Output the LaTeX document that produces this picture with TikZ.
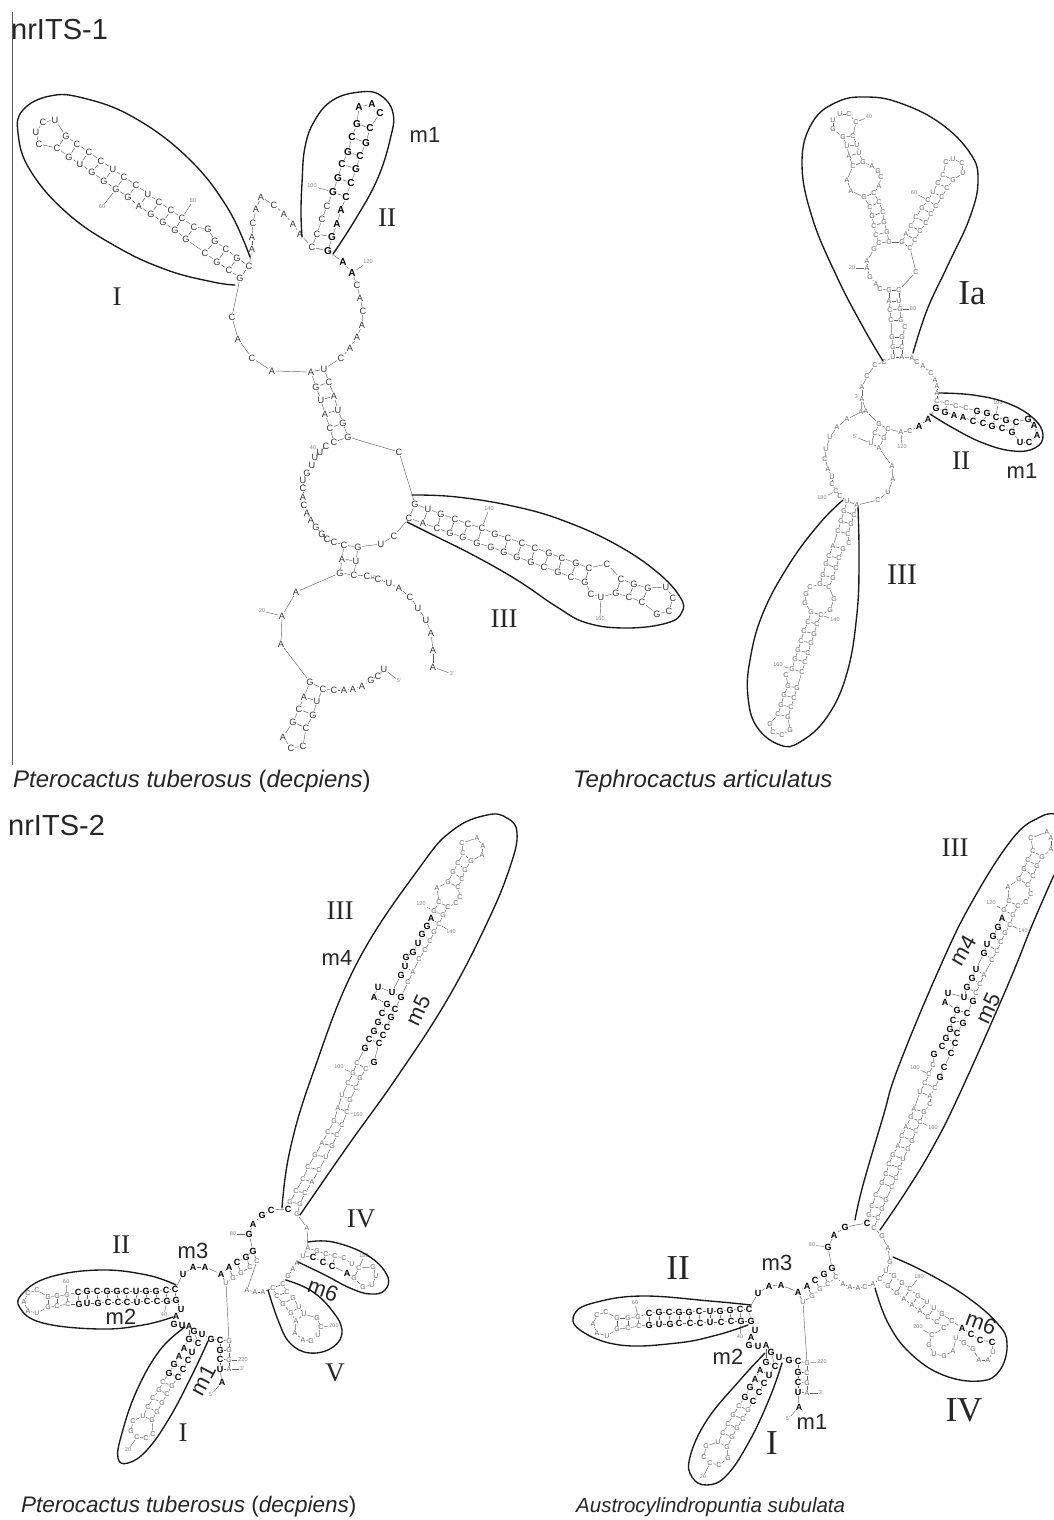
\documentclass[tikz,border=0pt]{standalone}
\usepackage{fontspec}
\setmainfont{Liberation Serif}
\setsansfont{Liberation Sans}
\usetikzlibrary{calc}
\definecolor{ga}{gray}{0.2}
\definecolor{gb}{gray}{0.38}
\definecolor{gt}{gray}{0.5}
\newcommand\strand[3]{%
 \foreach \px/\py/\lett [count=\ci] in {#3}{%
   \node[#2] (#1\ci) at (\px,\py) {\lett};
   \ifnum\ci>1 \pgfmathtruncatemacro\cp{\ci-1}\draw[bond] (#1\cp) -- (#1\ci);\fi
 }}
\newcommand\nest[4]{%
 \foreach \kk in {1,...,#4}{%
   \pgfmathtruncatemacro\ua{#2+\kk-1}\pgfmathtruncatemacro\ub{#3-\kk+1}%
   \draw[pairb] (#1\ua) -- (#1\ub);}}
\newcommand\pairs[3]{\foreach \ua/\ub in {#3}{\draw[pairb] (#1\ua) -- (#2\ub);}}
\newcommand\bond[2]{\draw[bond] (#1) -- (#2);}
\newcommand\tickn[5]{\node[tick] (#1) at (#2,#3) {#4}; \draw[bond] (#1) -- (#5);}
\tikzset{
 base/.style={font=\sffamily\fontsize{9.2}{9.2}\selectfont,text=ga,inner sep=.6pt},
 bold/.style={font=\sffamily\bfseries\fontsize{10}{10}\selectfont,text=black,inner sep=.6pt},
 thin/.style={font=\sffamily\fontsize{7}{7}\selectfont,text=gb,inner sep=.5pt},
 heavy/.style={font=\sffamily\bfseries\fontsize{9}{9}\selectfont,text=black,inner sep=.4pt},
 bond/.style={draw=gb,line width=.45pt},
 pairb/.style={draw=gb,line width=.55pt},
 tick/.style={font=\sffamily\fontsize{5.5}{5.5}\selectfont,text=gt,inner sep=1pt},
 outl/.style={draw=black!90,line width=1.35pt,line cap=round},
 roman/.style={font=\rmfamily\fontsize{#1}{#1}\selectfont,text=black!85,inner sep=0pt},
 roman/.default=27,
 mlab/.style={font=\sffamily\fontsize{22}{22}\selectfont,text=black!85,inner sep=0pt},
 head/.style={font=\sffamily\fontsize{29}{29}\selectfont,text=black!85,inner sep=0pt,anchor=base west},
 capt/.style={font=\sffamily\fontsize{#1}{#1}\selectfont,text=black!85,inner sep=0pt,anchor=base west},
}
\begin{document}
\begin{tikzpicture}[x=1pt,y=-1pt]
\useasboundingbox (0,0) rectangle (1054,1520);
% ---------- headings
\coordinate (vt) at (12.5,12); \coordinate (vb) at (12.5,765);
\draw[draw=black!65,line width=.9pt] (vt) -- (vb);
\node[head] (h1) at (11,40) {nrITS-1};
\node[head] (h2) at (8,835) {nrITS-2};
\node[capt=24] (c1) at (13,787) {\itshape Pterocactus tuberosus \upshape(\itshape decpiens\upshape)};
\node[capt=24] (c2) at (573,787) {\itshape Tephrocactus articulatus};
\node[capt=22.5] (c3) at (21,1512) {\itshape Pterocactus tuberosus \upshape(\itshape decpiens\upshape)};
\node[capt=20.5] (c4) at (576,1512) {\itshape Austrocylindropuntia subulata};
% ---------- A
\strand{aI}{base}{249/266/C,237/258/G,226/249/C,215/241/G,208/229/G,194/227/C,182/218/C,171/210/C,159/202/C,148/194/U,136/185/C,124/177/C,113/169/U,101/161/C,89/152/C,77/144/C,66/136/G,55/120/U,43/122/C,36/132/U,39/144/C,57/148/C,69/157/G,80/164/U,92/172/G,104/181/G,116/189/G,128/197/G,139/206/A,151/214/G,163/222/G,175/230/G,186/239/G,205/253/C,217/262/G,229/270/C,240/278/G}
\nest{aI}{1}{37}{4}\nest{aI}{6}{33}{12}
\strand{aL}{base}{232/317/C,238/339/A,252/358/C,272/371/A,311/372/A,316/387/G,321/400/U,325/414/A,330/428/C,334/442/C,326/446/C,320/452/U,315/457/U,312/465/U,307/473/G,303/480/U,303/488/C,303/497/A,304/505/C,307/513/A,311/520/A,316/527/G,322/534/G,327/539/C,334/542/C,344/545/C,342/559/A,340/573/G,296/592/A,282/616/A,281/644/A,310/682/G,304/697/A,299/709/C,293/722/G,283/737/A,291/748/C,303/746/C,306/728/C,313/715/G,317/701/U,323/689/C,334/690/C,344/690/A,353/689/A,362/686/A,371/680/G,378/676/C,384/669/U}
\nest{aL}{32}{42}{4}\bond{aI37}{aL1}
\strand{aR}{base}{433/667/A,433/650/A,431/633/A,426/620/U,418/608/U,410/597/C,399/588/A,389/583/U,378/579/C,367/576/C,354/575/C,356/561/U,358/547/G,381/544/U,394/536/C}
\pairs{aL}{aR}{28/11,27/12,26/13}
\strand{aIII}{base}{409/518/C,423/523/A,437/528/C,450/533/G,463/537/G,477/543/G,491/547/G,504/552/G,517/557/G,531/562/G,544/567/C,558/572/G,571/577/C,585/582/G,591/594/C,601/597/U,616/593/G,629/597/C,642/602/C,657/614/G,669/611/C,673/598/C,666/587/U,648/588/G,634/584/G,621/579/C,607/564/C,589/568/C,576/563/G,562/558/C,549/553/G,535/548/C,522/543/C,508/538/C,495/534/G,482/528/C,468/524/C,455/519/C,441/514/G,428/509/U,415/504/G}
\nest{aIII}{1}{41}{6}\nest{aIII}{8}{34}{7}\nest{aIII}{17}{26}{3}\bond{aR15}{aIII1}
\strand{aT}{base}{399/452/C,348/437/G,343/423/G,338/410/U,334/396/A,329/382/C,324/369/U,341/358/C,350/348/A,357/337/A,362/325/A,363/311/C,360/298/A,357/285/C}
\pairs{aL}{aT}{10/2,9/3,8/4,7/5,6/6,5/7}\bond{aIII41}{aT1}
\strand{aB}{bold}{352/273/A,343/262/A}\bond{aT14}{aB1}
\strand{aII}{bold}{328/251/G,332/237/G,337/224/A,341/210/A,346/197/C,351/183/C,356/169/G,360/156/C,366/143/G,370/128/C,380/113/C,372/104/A,359/107/A,357/124/G,352/137/C,348/152/G,342/164/C,338/178/G,333/192/G}
\nest{aII}{5}{19}{6}\bond{aB2}{aII1}
\strand{aIIb}{base}{327/206/C,322/219/C,317/234/C,312/247/C}
\pairs{aII}{aIIb}{1/4,2/3}\bond{aII19}{aIIb1}
\strand{aTop}{base}{252/249/A,252/237/A,253/223/C,256/209/A,261/197/A,274/205/C,284/214/A,293/224/A,300/234/A}
\bond{aI1}{aTop1}\bond{aTop9}{aIIb4}
\tickn{a60}{102}{207}{60}{aI27}\tickn{a80}{193}{201}{80}{aI7}\tickn{a100}{312}{186}{100}{aII19}\tickn{a120}{368}{262}{120}{aB1}
\tickn{a140}{489}{509}{140}{aIII36}\tickn{a160}{600}{619}{160}{aIII16}\tickn{a20}{262}{611}{20}{aL30}\tickn{a5}{399}{681}{5'}{aL49}\tickn{a3}{452}{674}{3'}{aR1}
\node[tick] (a40) at (313,448) {40}; \node[tick] (a10) at (373,578) {10};
\node[roman] (lA1) at (117,297) {I}; \node[roman] (lA2) at (387,218) {II}; \node[roman] (lA3) at (504,619) {III};
\node[mlab] (lA4) at (425,135) {m1};
\draw[outl] plot[smooth,tension=.7] coordinates {(250,257)(227,207)(187,157)(133,117)(83,98)(50,96)(23,110)(18,133)(30,170)(67,213)(117,247)(167,270)(213,282)(235,285)};
\draw[outl] plot[smooth,tension=.7] coordinates {(333,254)(355,220)(377,180)(390,140)(393,113)(380,95)(360,92)(333,100)(315,120)(305,147)(302,183)(301,213)(302,237)};
\draw[outl] plot[smooth,tension=.7] coordinates {(412,495)(457,497)(517,507)(567,522)(617,545)(657,572)(680,597)(682,612)(667,623)(627,628)(587,623)(557,607)(517,580)(473,555)(433,535)(407,522)};
% ---------- B
\strand{bIa}{thin}{893/357/U,893/347/G,892/337/G,891/320/C,890/310/C,889/301/A,889/290/G,880/289/C,876/284/A,870/277/G,867/268/A,867/261/A,874/249/G,879/243/C,876/235/C,874/226/C,872/216/G,870/207/C,864/197/G,851/191/A,847/180/A,853/166/C,849/156/A,847/146/U,843/137/G,833/129/G,833/120/U,840/114/U,849/114/C,856/122/C,853/136/C,857/145/U,859/153/U,863/162/G,872/166/A,878/171/G,881/177/C,879/186/A,874/193/C,879/202/C,883/212/C,884/222/G,887/232/G,889/242/G,902/242/G,906/234/A,911/226/C,916/217/C,922/208/G,928/200/C,933/192/U,938/183/C,943/175/C,946/162/C,953/159/U,962/163/C,963/173/U,953/180/G,947/188/C,942/197/C,936/206/C,931/214/C,926/223/C,920/231/C,915/240/C,910/248/C,916/272/C,899/290/C,899/301/U,900/309/G,901/320/G,905/327/C,902/337/G,902/347/C,902/357/A}
\nest{bIa}{1}{75}{3}\nest{bIa}{4}{71}{4}\nest{bIa}{14}{44}{6}\nest{bIa}{22}{34}{4}\nest{bIa}{45}{66}{9}
\strand{bT}{thin}{912/358/A,917/362/C,923/366/A,931/373/C,935/380/A,937/386/A,937/393/A}\bond{bIa75}{bT1}
\strand{bII}{thin}{937/401/C,947/403/C,956/406/C,966/408/C}
\strand{bIIb}{heavy}{977/411/G,987/413/G,996/417/C,1006/420/G,1016/422/C,1028/419/G,1034/425/A,1037/435/A,1029/442/C,1020/442/U,1012/432/G,1002/428/C,992/426/G,983/423/C,973/421/C,963/417/A,954/415/A,945/412/G,936/408/G}
\nest{bIIb}{1}{15}{5}\pairs{bII}{bIIb}{1/19,2/18}\bond{bT7}{bII1}\bond{bII4}{bIIb1}
\strand{bB}{heavy}{928/419/A,919/426/A}\bond{bIIb19}{bB1}
\strand{bLf}{thin}{884/362/C,875/365/C,867/376/C,862/387/A,862/399/A,866/411/A,879/424/G,875/433/C,871/443/U}\bond{bIa1}{bLf1}
\strand{bRt}{thin}{910/431/C,901/432/A,888/429/C,884/438/G,879/448/A,892/466/A,893/479/A,888/492/U,878/500/C}
\pairs{bLf}{bRt}{7/3,8/4,9/5}\bond{bB2}{bRt1}
\strand{bIII}{thin}{857/505/A,854/515/C,851/524/G,848/534/C,849/543/C,843/549/G,839/558/C,836/568/C,833/578/G,829/587/C,834/599/G,830/610/G,821/615/C,817/624/C,814/634/G,811/643/G,808/653/C,805/662/C,802/672/C,797/688/G,794/698/C,791/707/C,788/717/G,790/730/G,782/735/C,773/732/C,770/724/G,778/714/C,781/705/G,784/695/G,788/686/G,786/675/C,792/669/G,795/659/G,798/650/G,801/641/C,804/631/C,808/622/C,811/612/G,805/603/G,806/594/G,810/587/C,820/584/G,823/575/G,826/564/G,829/556/C,833/546/A,838/531/C,841/521/G,844/511/G,847/501/U}
\nest{bIII}{1}{51}{4}\nest{bIII}{6}{47}{5}\nest{bIII}{13}{39}{7}\nest{bIII}{20}{31}{4}\bond{bRt9}{bIII1}
\strand{bW}{thin}{840/496/C,836/491/C,832/484/C,832/477/U,828/469/A,825/459/C,826/449/U,830/437/U,837/427/A,847/419/A,861/412/A}\bond{bIII51}{bW1}\bond{bW11}{bLf5}\bond{bW11}{bLf6}
\tickn{b40}{869}{117}{40}{bIa30}\tickn{b60}{914}{193}{60}{bIa50}\tickn{b20}{852}{268}{20}{bIa11}\tickn{b80}{913}{309}{80}{bIa70}\tickn{b100}{998}{403}{100}{bIIb3}\tickn{b120}{902}{447}{120}{bRt2}\tickn{b5}{855}{437}{5'}{bLf9}\node[tick] (b3) at (857,397) {3'};
\tickn{b140}{835}{620}{140}{bIII13}\tickn{b160}{778}{665}{160}{bIII33}\tickn{b180}{822}{498}{180}{bW2}
\node[roman=35] (lB1) at (972,293) {Ia}; \node[roman] (lB2) at (961,461) {II}; \node[roman=30] (lB3) at (902,575) {III}; \node[mlab] (lB4) at (1022,471) {m1};
\draw[outl] plot[smooth,tension=.7] coordinates {(883,361)(863,327)(837,277)(812,217)(802,163)(812,123)(837,102)(867,97)(900,103)(940,123)(970,153)(978,180)(970,217)(947,267)(927,310)(913,353)};
\draw[outl] plot[smooth,tension=.7] coordinates {(939,393)(973,395)(1007,403)(1033,418)(1043,435)(1035,448)(1013,451)(983,443)(953,428)(930,414)};
\draw[outl] plot[smooth,tension=.7] coordinates {(843,500)(820,523)(790,563)(763,613)(750,660)(748,697)(757,727)(780,745)(800,742)(827,717)(847,673)(857,613)(859,557)(858,507)};
% ---------- C
\strand{cIIb}{heavy}{175/1289/C,166/1290/C,156/1291/G,146/1291/G,136/1291/U,126/1291/C,117/1291/G,107/1291/G,97/1291/C,87/1291/G,78/1292/C}
\strand{cIIg}{thin}{67/1295/G,57/1296/G,48/1297/G,37/1290/C,28/1293/C,24/1302/A,28/1311/A,37/1313/U,48/1307/G,57/1306/C,68/1304/C}
\strand{cIIc}{heavy}{79/1304/G,87/1303/U,98/1303/G,108/1302/C,118/1302/C,127/1302/C,137/1302/U,147/1301/C,157/1301/C,167/1301/G,176/1300/G}
\pairs{cIIb}{cIIc}{1/11,2/10,3/9,4/8,5/7,6/6,7/5,8/4,9/3,10/2,11/1}\nest{cIIg}{1}{11}{3}
\bond{cIIb11}{cIIg1}\bond{cIIg11}{cIIc1}
\strand{cJ}{heavy}{181/1309/U,176/1316/A,174/1324/G,182/1325/U,189/1326/A,189/1339/G,184/1348/A,179/1356/A,174/1364/G,169/1373/G}\bond{cIIc11}{cJ1}
\strand{cI}{thin}{163/1382/C,159/1390/G,153/1398/C,148/1407/C,143/1416/U,133/1421/C,131/1431/G,137/1437/C,146/1438/C,153/1434/C,152/1420/G,157/1412/G,162/1403/G,167/1394/C,172/1386/G}
\nest{cI}{1}{15}{5}\bond{cJ10}{cI1}
\strand{cK}{heavy}{178/1377/C,183/1369/C,188/1360/C,192/1352/U,198/1343/C,194/1331/G,202/1334/U,211/1339/G,220/1340/C,220/1350/G,220/1359/C,220/1369/U,222/1382/A}
\pairs{cJ}{cK}{6/5,7/4,8/3,9/2,10/1,5/6}\bond{cI15}{cK1}
\strand{cR}{thin}{229/1369/A,229/1360/G,229/1350/G,229/1341/G,226/1283/U,233/1278/G,241/1273/G,250/1267/C,257/1261/C,247/1290/A,255/1292/A,263/1292/A}
\pairs{cK}{cR}{9/4,10/3,11/2,12/1}
\strand{cM}{heavy}{183/1274/U,193/1267/A,205/1267/A,221/1274/A,229/1267/A,237/1262/C,246/1257/G,253/1251/G,249/1234/G,253/1224/A,262/1215/G,271/1210/C,288/1209/C}
\bond{cIIb1}{cM1}\pairs{cM}{cR}{4/5,5/6,6/7,7/8,8/9}
\strand{cIII}{thin}{290/1202/G,296/1191/C,303/1179/C,308/1167/C,315/1155/G,322/1143/A,328/1132/C,334/1121/G,338/1108/A,342/1095/U,348/1083/C,353/1073/G,357/1063/C}\bond{cM13}{cIII1}
\strand{cB}{heavy}{365/1048/G,369/1039/C,374/1031/G,378/1022/G,382/1013/C,387/1004/G,374/997/A,378/987/U,392/992/U,401/975/G,405/966/U,406/957/G,413/952/G,418/943/U,422/934/G,427/926/G,431/918/A}\bond{cIII13}{cB1}
\strand{cT}{thin}{434/911/G,439/902/C,437/888/A,448/882/G,453/872/G,458/863/C,463/853/C,462/843/C,477/838/A,483/846/A,482/855/A,471/861/G,465/870/G,462/879/C,458/887/C,460/897/C,456/903/C,448/907/C,443/915/G}
\nest{cT}{1}{19}{2}\nest{cT}{4}{15}{4}\bond{cB17}{cT1}
\strand{cV}{thin}{439/924/C,434/932/G,430/941/C,425/950/C,419/959/C,413/972/A,408/982/C}\bond{cT19}{cV1}
\strand{cW}{heavy}{401/997/G,395/1009/C,391/1017/G,387/1027/C,383/1035/C,379/1043/C,374/1062/G}\bond{cV7}{cW1}
\strand{cX}{thin}{366/1069/C,360/1078/G,356/1088/C,350/1100/G,347/1112/C,342/1125/C,337/1135/C,332/1146/G,326/1157/U,319/1170/C,312/1182/A,305/1193/C,300/1204/G,297/1214/G}\bond{cW7}{cX1}
\pairs{cIII}{cX}{1/13,2/12,3/11,4/10,5/9,6/8,7/7,8/6,9/5,10/4,11/3,12/2,13/1}
\pairs{cB}{cW}{6/2,5/3,4/4,3/5,2/6,9/1}\pairs{cB}{cV}{10/7,11/6,13/5,14/4,15/3,16/2,17/1}
\strand{cN}{thin}{307/1228/A,308/1248/A}\bond{cX14}{cN1}
\strand{cIV}{thin}{317/1251/G,326/1254/C,335/1256/C,344/1258/C,352/1264/U,359/1268/C,373/1267/G,376/1276/U,372/1285/U,363/1287/G,354/1278/G}\bond{cN2}{cIV1}\nest{cIV}{6}{11}{1}
\strand{cIVb}{heavy}{347/1273/A,332/1266/C,323/1262/C,313/1257/C}\bond{cIV11}{cIVb1}\pairs{cIV}{cIVb}{1/4,2/3,3/2}
\strand{cQ}{thin}{303/1256/U,297/1263/A,293/1269/A,288/1276/G,283/1284/C,287/1292/C,293/1298/G,299/1307/U,304/1314/U,317/1318/G,321/1327/C,318/1335/U,311/1341/G,303/1340/A,295/1333/A,296/1321/A,291/1313/G,283/1304/G,277/1296/C,273/1288/C}
\nest{cQ}{5}{20}{5}\bond{cIVb4}{cQ1}\bond{cR12}{cQ20}\draw[pairb] (cN2) -- (cQ1);
\tickn{c60}{66}{1282}{60}{cIIg1}\tickn{c40}{164}{1315}{40}{cIIc10}\tickn{c80}{233}{1234}{80}{cM9}\tickn{c20}{128}{1450}{20}{cI8}\tickn{c5}{211}{1395}{5'}{cK13}\tickn{c3}{242}{1369}{3'}{cR1}\tickn{c220}{243}{1360}{220}{cR2}
\tickn{c200}{334}{1326}{200}{cQ11}\tickn{c180}{364}{1256}{180}{cIV6}\tickn{c100}{339}{1067}{100}{cIII12}\tickn{c160}{358}{1115}{160}{cX5}\tickn{c120}{421}{904}{120}{cT1}\tickn{c140}{451}{932}{140}{cV1}
\node[roman] (lC1) at (121,1245) {II}; \node[mlab] (lC2) at (193,1251) {m3}; \node[mlab] (lC3) at (121,1317) {m2};
\node[mlab,rotate=62] (lC4) at (203,1380) {m1}; \node[roman] (lC5) at (183,1433) {I}; \node[roman] (lC6) at (335,1373) {V}; \node[roman] (lC7) at (361,1219) {IV};
\node[mlab,rotate=-20] (lC8) at (323,1290) {m6}; \node[roman] (lC9) at (340,911) {III}; \node[mlab] (lC10) at (337,958) {m4}; \node[mlab,rotate=65] (lC11) at (418,1010) {m5};
\draw[outl] plot[smooth,tension=.7] coordinates {(282,1208)(290,1150)(313,1073)(357,963)(420,867)(453,830)(487,815)(507,818)(517,833)(510,867)(487,923)(447,1000)(397,1077)(347,1147)(300,1215)};
\draw[outl] plot[smooth,tension=.7] coordinates {(176,1285)(147,1275)(100,1270)(50,1277)(23,1293)(20,1308)(43,1323)(100,1329)(143,1325)(173,1317)};
\draw[outl] plot[smooth,tension=.7] coordinates {(185,1327)(160,1350)(137,1390)(122,1433)(118,1458)(128,1463)(147,1450)(170,1417)(193,1373)(208,1341)};
\draw[outl] plot[smooth,tension=.7] coordinates {(308,1242)(333,1242)(367,1255)(387,1275)(385,1290)(370,1294)(350,1288)(325,1275)(298,1262)};
\draw[outl] plot[smooth,tension=.7] coordinates {(268,1290)(278,1320)(290,1343)(310,1353)(333,1347)(342,1330)(330,1308)(310,1290)(286,1280)};
% ---------- D
\strand{dIIb}{heavy}{749/1309/C,740/1309/C,730/1310/G,720/1311/G,710/1311/U,699/1311/C,689/1312/G,679/1312/G,669/1312/C,659/1312/G,649/1313/C}
\strand{dIIg}{thin}{638/1317/G,628/1318/G,617/1318/G,606/1312/C,597/1315/C,593/1324/A,597/1333/A,607/1336/U,617/1329/G,628/1328/C,639/1326/C}
\strand{dIIc}{heavy}{649/1325/G,659/1324/U,670/1324/G,679/1323/C,690/1323/C,700/1323/C,710/1322/U,721/1322/C,731/1321/C,741/1321/G,751/1321/G}
\pairs{dIIb}{dIIc}{1/11,2/10,3/9,4/8,5/7,6/6,7/5,8/4,9/3,10/2,11/1}\nest{dIIg}{1}{11}{3}
\bond{dIIb11}{dIIg1}\bond{dIIg11}{dIIc1}
\strand{dJ}{heavy}{755/1330/U,751/1337/A,749/1345/G,758/1346/U,766/1345/A,766/1362/G,760/1370/A,755/1379/A,750/1387/G,745/1397/G}\bond{dIIc11}{dJ1}
\strand{dI}{thin}{739/1406/C,733/1415/G,728/1424/C,723/1433/C,718/1442/U,706/1446/G,704/1457/C,710/1463/C,719/1465/C,728/1458/G,727/1447/G,732/1437/G,737/1428/G,743/1419/C,748/1410/G}
\nest{dI}{1}{15}{5}\bond{dJ10}{dI1}
\strand{dK}{heavy}{753/1401/C,759/1392/C,764/1383/C,769/1375/U,775/1366/C,771/1352/G,779/1357/U,789/1360/G,798/1361/C,798/1372/G,798/1382/C,798/1392/U,799/1407/A}
\pairs{dJ}{dK}{6/5,7/4,8/3,9/2,10/1,5/6}\bond{dI15}{dK1}
\strand{dR}{thin}{807/1393/A,807/1383/G,807/1373/C,807/1363/G,803/1302/U,812/1296/G,820/1289/G,828/1284/C,836/1277/C,843/1284/A,850/1287/A,858/1288/A,865/1287/C,873/1284/A}
\pairs{dK}{dR}{9/4,10/3,11/2,12/1}
\strand{dM}{heavy}{758/1293/U,769/1286/A,781/1285/A,798/1292/A,807/1286/A,815/1280/C,824/1274/G,832/1268/G,828/1247/G,834/1235/A,845/1227/G,867/1223/C}
\bond{dIIb1}{dM1}\pairs{dM}{dR}{4/5,5/6,6/7,7/8,8/9}
\strand{dIII}{thin}{869/1215/G,872/1206/C,876/1195/C,882/1183/G,886/1174/C,889/1164/C,893/1155/G,898/1146/A,902/1136/C,906/1127/A,911/1117/G,914/1109/A,920/1092/U,925/1083/C,929/1074/C,933/1065/C}\bond{dM12}{dIII1}
\strand{dX}{thin}{935/1088/C,930/1096/A,930/1104/C,924/1112/G,920/1122/C,916/1131/C,912/1141/G,908/1149/G,903/1159/U,900/1168/C,896/1178/C,892/1187/C,886/1200/G,882/1209/G,878/1218/C,874/1228/C}
\pairs{dIII}{dX}{1/15,2/14,3/13,4/12,5/11,6/10,7/9,8/8,9/7,10/6,11/5,12/4,13/2,14/1}
\strand{dB}{heavy}{934/1054/G,942/1046/C,946/1038/G,950/1029/G,953/1020/C,957/1010/G,945/1002/A,948/993/U,964/997/U,967/987/G,972/978/G,976/969/U,984/953/G,987/944/U,993/936/G,998/927/G,1002/918/A}\bond{dIII16}{dB1}
\strand{dT}{thin}{1004/910/G,1009/901/C,1008/887/A,1019/879/G,1024/869/G,1028/860/C,1033/851/C,1031/838/C,1047/832/A,1051/838/A,1051/849/A,1042/857/G,1037/866/G,1033/876/C,1028/885/C,1031/894/C,1026/902/C,1018/906/C,1013/915/G}
\nest{dT}{1}{19}{2}\nest{dT}{4}{15}{4}\bond{dB17}{dT1}
\strand{dV}{thin}{1010/925/C,1005/933/G,1001/942/C,997/951/C,992/960/C,984/975/A,980/984/C,976/993/C}\bond{dT19}{dV1}
\strand{dW}{heavy}{973/1001/G,967/1013/C,963/1023/G,957/1033/C,955/1043/C,951/1053/C,944/1067/C,940/1077/G}\bond{dV8}{dW1}\bond{dW8}{dX1}
\pairs{dB}{dW}{6/2,5/3,4/4,3/5,2/6,9/1}\pairs{dB}{dV}{10/8,11/7,12/6,13/5,14/4,15/3,16/2,17/1}
\strand{dN}{thin}{882/1236/G,888/1248/A,890/1262/G,886/1271/U}\bond{dX16}{dN1}
\strand{dF}{thin}{894/1276/G,902/1283/G,910/1289/C,918/1296/G,927/1302/U,934/1308/U,942/1314/G,952/1321/C}\bond{dN4}{dF1}
\strand{dFb}{heavy}{962/1328/A,971/1334/C,980/1340/C,992/1342/C}\bond{dF8}{dFb1}
\strand{dFc}{thin}{993/1352/U,988/1360/A,979/1360/A,973/1349/G,964/1343/G,956/1338/U}\bond{dFb4}{dFc1}
\strand{dFd}{thin}{953/1351/A,944/1356/G,934/1354/U,929/1345/G,932/1335/C,944/1328/C,937/1322/C,928/1317/C,920/1311/A,912/1305/A,904/1299/A,897/1293/G,888/1286/G,880/1279/C}\bond{dFc6}{dFd1}\bond{dFd14}{dR14}
\pairs{dF}{dFd}{1/13,2/12,3/11,4/10,5/9,6/8,7/7,8/6}\draw[pairb] (dN4) -- (dFd14);
\tickn{d60}{635}{1303}{60}{dIIg1}\tickn{d40}{740}{1337}{40}{dIIc10}\tickn{d80}{812}{1245}{80}{dM9}\tickn{d20}{703}{1477}{20}{dI8}\tickn{d5}{788}{1419}{5'}{dK13}\tickn{d3}{821}{1393}{3'}{dR1}\tickn{d220}{822}{1362}{220}{dR4}
\tickn{d180}{919}{1277}{180}{dF3}\tickn{d200}{918}{1327}{200}{dFd5}\tickn{d100}{915}{1068}{100}{dIII15}\tickn{d160}{933}{1128}{160}{dX5}\tickn{d120}{991}{903}{120}{dT1}\tickn{d140}{1023}{931}{140}{dV1}
\node[roman=35] (lD1) at (678,1268) {II}; \node[mlab] (lD2) at (777,1263) {m3}; \node[mlab] (lD3) at (728,1357) {m2}; \node[mlab] (lD4) at (812,1422) {m1};
\node[roman=35] (lD5) at (772,1443) {I}; \node[roman=35] (lD6) at (964,1410) {IV}; \node[mlab,rotate=-20] (lD7) at (981,1323) {m6};
\node[roman] (lD8) at (955,848) {III}; \node[mlab,rotate=60] (lD9) at (963,950) {m4}; \node[mlab,rotate=65] (lD10) at (988,1008) {m5};
\draw[outl] plot[smooth,tension=.7] coordinates {(855,1220)(863,1185)(883,1117)(898,1068)(940,967)(973,900)(1013,838)(1040,817)(1054,814)};
\draw[outl] plot[smooth,tension=.7] coordinates {(1054,875)(1033,923)(1007,987)(960,1093)(933,1147)(907,1190)(880,1230)};
\draw[outl] plot[smooth,tension=.7] coordinates {(751,1305)(710,1301)(643,1296)(597,1302)(575,1313)(580,1330)(620,1345)(677,1343)(717,1335)(748,1325)};
\draw[outl] plot[smooth,tension=.7] coordinates {(765,1353)(740,1380)(707,1420)(690,1457)(692,1477)(707,1485)(727,1475)(750,1440)(770,1397)(782,1363)};
\draw[outl] plot[smooth,tension=.7] coordinates {(893,1257)(927,1273)(967,1297)(997,1323)(1007,1343)(1000,1370)(980,1381)(943,1375)(910,1353)(888,1323)(875,1288)};
\end{tikzpicture}
\end{document}
